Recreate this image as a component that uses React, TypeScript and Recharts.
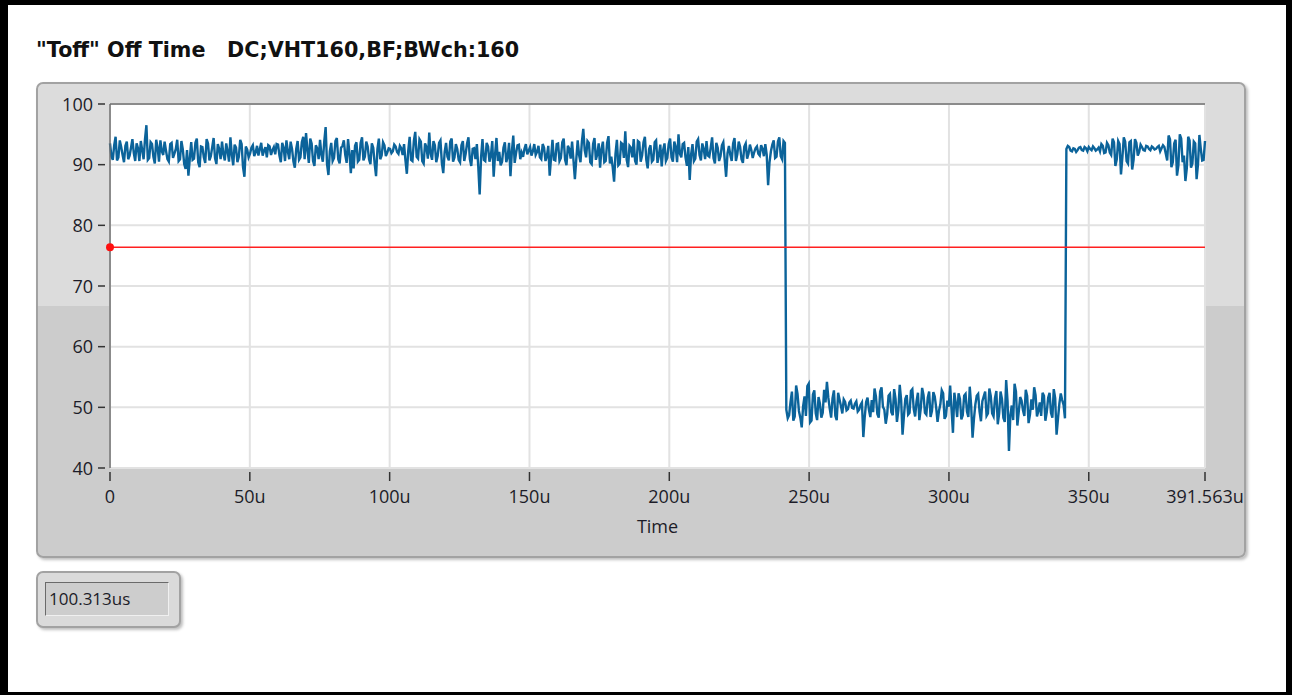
import {
  CartesianGrid,
  Line,
  LineChart,
  ReferenceDot,
  ReferenceLine,
  XAxis,
  YAxis,
} from "recharts";

// time axis in microseconds
const T_END = 391.563;
const X_TICKS = [0, 50, 100, 150, 200, 250, 300, 350, 391.563];
const Y_TICKS = [40, 50, 60, 70, 80, 90, 100];
const THRESHOLD = 76.4;
const READOUT = "100.313us";

// samples (whole-step samples and the ones between them):
// high level, off period, high level again
const HIGH_A = [
  93.5, 90.8, 94.6, 91.2, 92.9, 90.4, 93.8, 91.5, 94.2, 90.6,
  92.7, 93.9, 90.9, 96.5, 91.1, 93.4, 90.2, 92.8, 94.0, 91.6,
  92.3, 90.5, 93.6, 91.8, 94.1, 90.9, 92.5, 89.3, 88.2, 93.7,
  91.0, 94.3, 89.6, 92.9, 90.3, 93.5, 91.4, 94.4, 90.1, 92.6,
  93.8, 90.7, 92.2, 94.5, 89.9, 92.8, 91.3, 93.4, 88.0, 92.5,
  91.8, 93.2, 92.0, 91.5, 93.6, 92.3, 91.2, 93.0, 92.4, 91.7,
  93.3, 90.4, 92.8, 94.0, 90.9, 92.6, 89.5, 93.9, 91.2, 94.6,
  95.2, 90.3, 93.5, 89.8, 92.7, 94.1, 90.5, 96.2, 88.3, 93.6,
  91.1, 94.4, 90.2, 93.1, 91.6, 94.2, 88.6, 89.4, 93.7, 90.8,
  94.5, 91.3, 93.0, 90.1, 92.8, 88.1, 94.3, 91.5, 93.2, 92.0,
  92.6, 92.2, 93.0, 91.8, 92.7, 93.4, 88.5, 94.6, 90.6, 95.4,
  91.0, 93.8, 90.2, 92.9, 95.3, 90.8, 93.2, 91.4, 94.0, 88.6,
  93.6, 90.7, 94.3, 91.2, 92.6, 90.4, 93.9, 91.8, 94.5, 89.8,
  92.7, 93.4, 85.1, 94.2, 90.6, 93.0, 91.5, 88.0, 94.4, 92.1,
  90.5, 93.7, 91.3, 88.1, 94.8, 91.9, 93.3, 92.0, 92.6, 91.7,
  92.9, 92.2, 91.6, 93.1, 90.9, 92.8, 91.4, 88.2, 94.1, 90.7,
  93.5, 91.1, 94.3, 89.9, 92.6, 93.8, 87.6, 94.0, 90.4, 95.9,
  91.2, 93.6, 90.1, 94.4, 91.7, 89.5, 93.8, 90.6, 94.7, 91.3,
  87.2, 94.1, 90.2, 93.4, 95.5, 89.6, 92.8, 94.2, 90.0, 93.7,
  91.5, 94.6, 89.4, 93.2, 90.8, 94.0, 91.6, 89.7, 93.5, 91.1,
  94.3, 90.5, 92.9, 95.0, 91.2, 93.6, 89.8, 87.5, 93.4, 91.0,
  94.2, 90.7, 92.6, 93.9, 91.3, 94.5, 90.2, 92.8, 91.4, 93.7,
  88.0, 93.1, 90.6, 94.4, 91.7, 92.9, 90.3, 93.5, 91.8, 92.4,
  92.0, 93.0, 91.5, 92.6, 93.4, 86.6, 92.2, 94.0, 91.3, 94.5,
  90.9, 93.6,
];

const HIGH_A_MID = [
  91.4, 93.2, 90.7, 94.0, 91.6, 93.1, 90.9, 92.8, 91.9, 93.5,
  90.6, 92.4, 94.2, 90.8, 93.7, 91.3, 94.1, 90.5, 92.2, 93.8,
  90.9, 93.4, 91.1, 92.6, 90.6, 93.9, 90.1, 92.4, 91.0, 90.8,
  93.6, 90.4, 93.0, 91.2, 94.2, 90.7, 92.9, 91.1, 93.4, 90.9,
  91.7, 93.5, 90.5, 91.6, 93.3, 90.4, 94.1, 89.6, 93.0, 91.2,
  92.8, 91.4, 93.1, 92.6, 91.5, 92.9, 93.2, 91.6, 92.9, 93.4,
  91.5, 93.6, 90.6, 92.2, 93.8, 90.5, 92.6, 90.8, 93.7, 90.9,
  92.4, 94.3, 90.6, 93.2, 90.9, 91.6, 93.8, 90.1, 92.2, 90.6,
  93.9, 90.9, 92.8, 94.0, 90.3, 91.9, 92.4, 93.1, 90.5, 93.6,
  90.7, 93.8, 90.9, 93.5, 90.2, 92.6, 90.9, 93.7, 91.4, 92.7,
  91.9, 93.3, 92.1, 93.1, 91.6, 90.7, 92.3, 90.8, 93.9, 91.3,
  94.2, 90.6, 93.5, 91.0, 91.8, 93.9, 90.4, 93.6, 90.3, 92.1,
  91.3, 93.8, 90.5, 93.4, 90.8, 93.2, 90.6, 93.5, 90.9, 92.6,
  90.9, 89.7, 91.2, 90.8, 93.6, 90.5, 93.9, 91.7, 90.6, 89.9,
  92.8, 90.4, 93.6, 92.2, 90.3, 93.2, 90.9, 91.3, 93.4, 92.3,
  91.5, 93.4, 92.1, 91.2, 93.4, 90.6, 93.1, 91.2, 90.8, 93.4,
  90.6, 93.7, 90.8, 93.1, 91.0, 90.7, 90.9, 91.6, 93.8, 92.4,
  93.9, 90.4, 93.4, 90.8, 93.5, 92.6, 90.4, 93.6, 90.2, 89.6,
  91.8, 89.9, 93.6, 91.1, 90.8, 93.1, 91.2, 90.6, 93.9, 90.5,
  93.7, 90.8, 92.6, 90.5, 93.7, 90.3, 93.3, 92.4, 90.6, 93.4,
  91.2, 93.8, 90.4, 91.8, 93.4, 91.2, 92.9, 91.7, 90.6, 93.8,
  91.6, 93.5, 90.9, 91.5, 92.8, 91.1, 93.6, 90.6, 93.2, 90.8,
  91.9, 91.6, 93.5, 90.6, 93.8, 90.9, 93.0, 91.0, 93.3, 91.1,
  92.7, 91.8, 93.2, 91.4, 91.6, 90.4, 93.3, 91.1, 93.8, 91.4,
  93.9,
];

const LOW = [
  48.2, 50.9, 47.8, 53.6, 49.4, 46.7, 51.8, 53.5, 47.5, 52.1,
  49.0, 51.7, 48.3, 52.9, 54.2, 49.8, 51.5, 48.6, 52.4, 50.2,
  51.3, 49.5, 50.8, 49.9, 50.6, 49.3, 50.4, 45.1, 50.9, 49.6,
  51.2, 53.1, 48.9, 52.6, 50.1, 47.3, 51.9, 49.2, 53.0, 47.6,
  53.7, 45.5, 51.4, 48.8, 52.7, 49.7, 51.0, 47.9, 53.2, 49.1,
  51.6, 48.4, 52.5, 50.0, 49.4, 52.8, 48.1, 51.1, 53.6, 45.8,
  50.7, 52.3, 48.0, 51.9, 49.3, 53.4, 45.0, 50.5, 52.2, 47.7,
  51.8, 48.6, 53.1, 49.0, 51.5, 47.2, 52.6, 48.3, 54.5, 42.8,
  50.3, 53.9, 47.0, 51.7, 49.5, 52.9, 47.4, 51.3, 53.3, 48.5,
  50.8, 52.4, 47.8, 51.6, 49.1, 53.0, 45.5, 50.6, 51.2, 48.2,
];

const LOW_MID = [
  49.6, 48.7, 52.6, 48.5, 52.2, 48.3, 50.2, 48.6, 53.9, 47.8,
  52.8, 47.9, 50.6, 49.1, 50.8, 51.6, 48.3, 52.8, 47.9, 51.3,
  49.0, 50.9, 49.7, 51.1, 49.8, 51.0, 49.6, 50.8, 48.4, 51.6,
  48.4, 49.2, 51.8, 48.3, 53.3, 49.6, 48.8, 52.2, 48.7, 51.4,
  49.5, 51.2, 48.6, 52.0, 49.1, 53.0, 48.5, 52.4, 49.8, 52.0,
  48.8, 52.6, 49.4, 51.8, 47.6, 50.5, 52.3, 48.6, 50.1, 49.6,
  52.4, 48.4, 51.4, 48.7, 52.2, 48.4, 50.3, 48.1, 51.9, 49.3,
  51.0, 52.6, 49.0, 51.9, 48.5, 52.7, 49.0, 51.4, 47.6, 51.0,
  48.7, 47.9, 52.6, 49.3, 51.1, 48.6, 51.9, 48.8, 49.6, 52.0,
  49.4, 48.6, 51.9, 49.2, 52.4, 48.3, 51.5, 48.1, 52.3, 50.4,
];

const HIGH_B = [
  93.1, 92.3, 92.7, 92.1, 92.8, 92.4, 92.9, 92.2, 92.6, 93.0,
  92.3, 92.8, 93.4, 91.9, 93.6, 92.0, 94.3, 89.8, 93.9, 88.4,
  94.5, 90.6, 93.7, 89.2, 94.2, 91.5, 93.3, 92.4, 93.1, 92.6,
  93.0, 92.5, 92.9, 92.2, 93.2, 91.8, 94.8, 89.6, 93.5, 88.2,
  95.0, 90.4, 87.3, 94.6, 89.5, 93.8, 87.6, 94.9, 90.7, 93.9,
];

const HIGH_B_MID = [
  92.6, 92.9, 92.2, 92.6, 92.4, 92.9, 92.3, 92.7, 92.9, 92.4,
  92.7, 92.5, 92.2, 93.1, 92.0, 93.2, 91.6, 93.7, 90.9, 93.4,
  91.2, 93.8, 90.2, 93.9, 90.8, 93.6, 92.1, 92.9, 92.3, 93.0,
  92.4, 92.8, 92.6, 93.1, 92.7, 92.9, 90.7, 94.2, 90.4, 94.1,
  89.9, 94.3, 91.5, 89.4, 94.0, 90.2, 93.5, 90.1, 92.6, 90.8,
];

// alternate two lists: a0, b0, a1, b1, ...
function weave(a: number[], b: number[]) {
  const out: number[] = [];
  for (let i = 0; i < Math.max(a.length, b.length); i++) {
    if (i < a.length) out.push(a[i]);
    if (i < b.length) out.push(b[i]);
  }
  return out;
}

const SAMPLES = [
  ...weave(HIGH_A, HIGH_A_MID),
  ...weave(LOW_MID, LOW),
  ...weave(HIGH_B_MID, HIGH_B),
];
const DT = T_END / (SAMPLES.length - 1);
const data = SAMPLES.map((v, i) => ({ t: i * DT, v }));

const FONT = "'Open Sans', 'Noto Sans', sans-serif";
const INK = "#1c1c28";

const fmtX = (v: number) => (v === 0 ? "0" : `${v}u`);

function XTick({ x, y, payload }: any) {
  return (
    <g>
      <line x1={x} x2={x} y1={y + 4} y2={y + 13} stroke="#333" strokeWidth={1.5} />
      <text x={x} y={y + 35} textAnchor="middle" fill={INK} fontSize={18} fontFamily={FONT}>
        {fmtX(payload.value)}
      </text>
    </g>
  );
}

function YTick({ x, y, payload }: any) {
  return (
    <g>
      <line x1={x - 12} x2={x - 5} y1={y} y2={y} stroke="#333" strokeWidth={1.5} />
      <text x={x - 17} y={y + 6.5} textAnchor="end" fill={INK} fontSize={18} fontFamily={FONT}>
        {payload.value}
      </text>
    </g>
  );
}

export default function App() {
  return (
    <div
      style={{
        position: "absolute",
        left: 0,
        top: 0,
        width: 1292,
        height: 695,
        background: "#fff",
        fontFamily: FONT,
        overflow: "hidden",
      }}
    >
      <div
        style={{
          position: "absolute",
          left: 36,
          top: 38,
          fontFamily: "'DejaVu Sans', sans-serif",
          fontSize: 20.7,
          fontWeight: 700,
          color: "#111",
          whiteSpace: "pre",
        }}
      >
        {'"Toff" Off Time   DC;VHT160,BF;BWch:160'}
      </div>

      <div
        style={{
          position: "absolute",
          left: 36,
          top: 82,
          width: 1210,
          height: 476,
          boxSizing: "border-box",
          borderRadius: 7,
          border: "2px solid #a2a2a2",
          background: "linear-gradient(to bottom, #dcdcdc 0px, #dcdcdc 222px, #cccccc 222px)",
          boxShadow: "2px 2px 3px rgba(0,0,0,0.25)",
        }}
      />

      <div style={{ position: "absolute", left: 36, top: 82 }}>
        <LineChart
          width={1210}
          height={476}
          data={data}
          margin={{ top: 22, right: 41, bottom: 0, left: 0 }}
        >
          <CartesianGrid stroke="#e2e2e2" strokeWidth={2} fill="#fff" />
          <XAxis
            type="number"
            dataKey="t"
            domain={[0, T_END]}
            ticks={X_TICKS}
            interval={0}
            height={90}
            axisLine={false}
            tickLine={false}
            tickSize={0}
            tickMargin={0}
            tick={XTick}
            label={{
              value: "Time",
              position: "insideBottom",
              offset: 25,
              fill: INK,
              fontSize: 18,
              fontFamily: FONT,
            }}
          />
          <YAxis
            type="number"
            domain={[40, 100]}
            ticks={Y_TICKS}
            interval={0}
            width={74}
            axisLine={{ stroke: "#6e6e6e", strokeWidth: 1.5 }}
            tickLine={false}
            tickSize={0}
            tickMargin={0}
            tick={YTick}
          />
          <ReferenceLine y={100} stroke="#6e6e6e" strokeWidth={1.5} />
          <Line
            type="linear"
            dataKey="v"
            stroke="#0b639a"
            strokeWidth={2.4}
            dot={false}
            isAnimationActive={false}
          />
          <ReferenceLine y={THRESHOLD} stroke="#ff2020" strokeWidth={1.5} />
          <ReferenceDot x={0} y={THRESHOLD} r={4} fill="#ff1010" stroke="none" />
        </LineChart>
      </div>

      <div
        style={{
          position: "absolute",
          left: 36,
          top: 571,
          width: 145,
          height: 57,
          boxSizing: "border-box",
          borderRadius: 7,
          border: "2px solid #a2a2a2",
          background: "#dadada",
          boxShadow: "2px 2px 3px rgba(0,0,0,0.25)",
        }}
      />
      <div
        style={{
          position: "absolute",
          left: 45,
          top: 582,
          width: 124,
          height: 34,
          boxSizing: "border-box",
          borderTop: "1px solid #6a6a6a",
          borderLeft: "1px solid #6a6a6a",
          borderBottom: "1px solid #f0f0f0",
          borderRight: "1px solid #f0f0f0",
          background: "#cdcdcd",
          fontSize: 17,
          lineHeight: "32px",
          paddingLeft: 3,
          color: INK,
        }}
      >
        {READOUT}
      </div>

      <div
        style={{
          position: "absolute",
          left: 0,
          top: 0,
          width: 1292,
          height: 695,
          boxSizing: "border-box",
          borderStyle: "solid",
          borderColor: "#000",
          borderWidth: "5px 6px 3px 8px",
          pointerEvents: "none",
        }}
      />
    </div>
  );
}
